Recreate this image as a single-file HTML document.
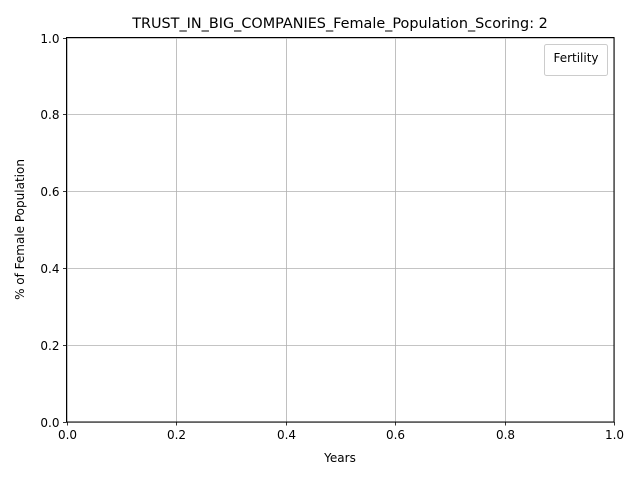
<!DOCTYPE html>
<html><head><meta charset="utf-8"><style>
body{margin:0;background:#fff;}
svg{display:block;font-family:"DejaVu Sans","Liberation Sans",sans-serif;}
</style></head><body>
<svg id="chart" width="640" height="480">
<text x="340" y="28" font-size="14.4" text-anchor="middle">TRUST_IN_BIG_COMPANIES_Female_Population_Scoring: 2</text>
<g id="grid"></g>
<g id="ticks"></g>
<rect x="66.5" y="37.5" width="547.5" height="384.5" fill="none" stroke="#000" stroke-width="1"/>
<text x="340" y="462" font-size="12" text-anchor="middle">Years</text>
<text x="24" y="229.5" font-size="12" text-anchor="middle" transform="rotate(-90 24 229.5)">% of Female Population</text>
<g>
<rect x="544.5" y="44.5" width="63" height="31" rx="2" fill="#fff" stroke="#ccc"/>
<text x="576" y="62" font-size="12" text-anchor="middle">Fertility</text>
</g>
</svg>
<script>
const xTicks=[0.0,0.2,0.4,0.6,0.8,1.0];
const yTicks=[0.0,0.2,0.4,0.6,0.8,1.0];
const X0=66.5,X1=614,Y0=422,Y1=37.5;
const sx=v=>X0+(X1-X0)*v, sy=v=>Y0-(Y0-Y1)*v;
const NS="http://www.w3.org/2000/svg";
const grid=document.getElementById('grid'),tk=document.getElementById('ticks');
function mk(tag,attrs,parent){const e=document.createElementNS(NS,tag);for(const k in attrs)e.setAttribute(k,attrs[k]);parent.appendChild(e);return e;}
xTicks.forEach(v=>{const x=Math.round(sx(v))+0.5;
const g=mk('line',{x1:x,x2:x,y1:Y1,y2:Y0,stroke:'#b0b0b0','stroke-width':0.8},grid);


const t=mk('line',{x1:x,x2:x,y1:Y0,y2:Y0+3.5,stroke:'#000','stroke-width':0.8},tk);


const l=mk('text',{x:x,y:Y0+17,'font-size':12,'text-anchor':'middle'},tk);l.textContent=v.toFixed(1);

});
yTicks.forEach(v=>{const y=Math.round(sy(v))+0.5;
const g=mk('line',{x1:X0,x2:X1,y1:y,y2:y,stroke:'#b0b0b0','stroke-width':0.8},grid);


const t=mk('line',{x1:X0-3.5,x2:X0,y1:y,y2:y,stroke:'#000','stroke-width':0.8},tk);


const l=mk('text',{x:X0-7,y:y+4.5,'font-size':12,'text-anchor':'end'},tk);l.textContent=v.toFixed(1);

});
</script>
</body></html>
